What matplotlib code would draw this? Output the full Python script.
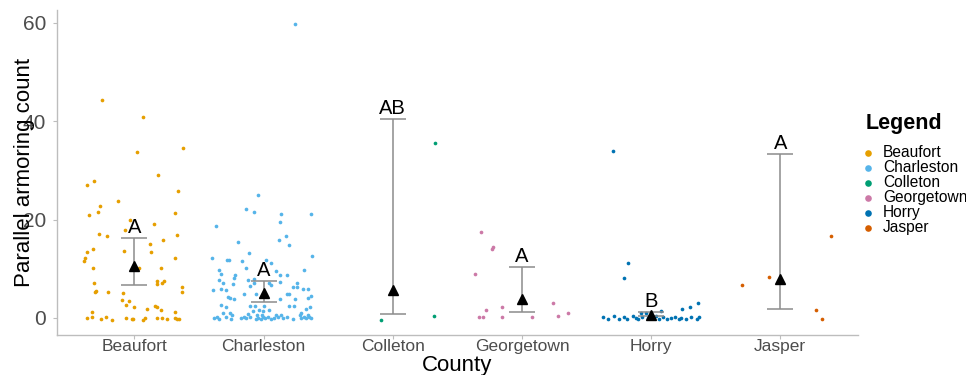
import matplotlib
matplotlib.use("Agg")
import matplotlib.pyplot as plt
import numpy as np

plt.rcParams['font.family'] = ['Liberation Sans', 'DejaVu Sans']

# Counties and colours (Okabe-Ito)
counties = ['Beaufort', 'Charleston', 'Colleton', 'Georgetown', 'Horry', 'Jasper']
colors = ['#E69F00', '#56B4E9', '#009E73', '#CC79A7', '#0072B2', '#D55E00']

# Jittered observations: horizontal jitter (category units) and count
beaufort_jit = [-0.255, 0.064, 0.378, 0.023, 0.18, -0.365, -0.311, 0.334, -0.129, -0.269,
                -0.285, -0.350, 0.314, 0.152, -0.077, -0.033, -0.275, -0.213, 0.329, 0.219,
                0.121, 0.126, -0.319, -0.368, -0.383, -0.391, -0.082, 0.311, -0.325, 0.036,
                0.206, -0.311, 0.177, 0.177, 0.213, 0.229, -0.303, -0.296, -0.206, -0.087,
                0.368, 0.370, -0.098, -0.044, -0.062, 0.0, 0.162, 0.172, 0.093, 0.206,
                0.311, -0.327, -0.368, -0.332, -0.257, -0.221, -0.177, -0.067, -0.023, -0.013,
                0.064, 0.085, 0.172, 0.216, 0.252, 0.311, 0.332, 0.345]
beaufort_val = [44.4, 40.9, 34.6, 33.7, 29.0, 27.0, 27.9, 25.9, 23.7, 22.7,
                21.5, 20.9, 21.4, 19.2, 17.8, 19.9, 17.1, 16.7, 16.9, 15.8,
                15.0, 13.5, 14.0, 13.5, 12.1, 11.6, 13.7, 12.1, 10.1, 10.1,
                10.1, 7.0, 7.6, 6.8, 7.2, 7.6, 5.2, 5.4, 5.2, 5.0,
                6.2, 5.2, 3.7, 3.5, 2.6, 2.2, 2.4, 2.2, 1.8, 1.6,
                1.3, 1.3, -0.07, 0.14, -0.27, 0.14, -0.34, 0.07, -0.27, -0.14,
                -0.4, 0.07, 0.0, 0.07, -0.14, 0.0, -0.2, -0.14]

charleston_jit = [0.239, -0.044, -0.134, -0.075, 0.131, 0.363, 0.129, -0.370, 0.170, 0.116,
                  -0.195, 0.195, -0.111, 0.373, -0.399, -0.283, -0.267, -0.167, 0.015, 0.054,
                  -0.139, 0.095, 0.309, -0.345, -0.334, 0.123, 0.180, -0.224, -0.231, -0.347,
                  -0.314, -0.118, -0.075, -0.075, -0.103, 0.041, 0.057, 0.126, 0.260, 0.224,
                  0.260, 0.306, 0.345, -0.239, -0.396, -0.329, -0.293, -0.154, -0.062, 0.180,
                  0.195, 0.368, -0.278, -0.257, -0.226, 0.123, 0.244, 0.342, -0.329, -0.288,
                  -0.103, -0.064, 0.005, 0.195, 0.236, 0.324, 0.360, -0.082, -0.039, -0.005,
                  0.041, -0.314, -0.257, -0.247, 0.290, -0.121,
                  -0.381, -0.365, -0.345, -0.288, -0.249, -0.177, -0.154, -0.134, -0.108, -0.062,
                  -0.041, -0.023, -0.005, 0.013, 0.033, 0.054, 0.077, 0.113, 0.149, 0.180,
                  0.226, 0.291, 0.309, 0.329, 0.350, 0.368,
                  -0.051, -0.015, 0.093, 0.131, 0.278, 0.342]
charleston_val = [59.8, 25.0, 22.2, 21.5, 21.1, 21.1, 19.5, 18.6, 16.6, 15.8,
                  15.4, 14.8, 13.2, 12.5, 12.2, 11.7, 11.8, 11.6, 11.7, 11.1,
                  10.2, 9.6, 9.7, 9.7, 9.0, 8.7, 8.8, 8.7, 8.1, 7.7,
                  7.0, 7.8, 7.9, 7.0, 6.4, 7.1, 6.6, 7.4, 7.0, 6.3,
                  6.3, 5.8, 5.8, 6.8, 5.7, 5.9, 5.7, 4.8, 4.9, 4.8,
                  4.9, 4.5, 4.2, 4.0, 3.8, 3.9, 3.9, 4.0, 2.7, 2.2,
                  2.5, 2.5, 2.5, 2.5, 2.5, 1.8, 2.3, 1.4, 1.6, 1.5,
                  1.6, 1.1, 1.0, 0.5, 1.0, 0.7,
                  -0.1, 0.2, -0.2, 0.1, -0.3, 0.0, 0.2, -0.1, 0.1, -0.2,
                  0.0, -0.3, 0.1, -0.1, 0.2, -0.2, 0.0, 0.1, -0.1, 0.2,
                  -0.2, 0.0, 0.1, -0.1, 0.2, 0.0,
                  0.5, 0.5, 0.5, 0.5, 0.5, 0.5]

colleton_jit = [0.327, 0.319, -0.090]
colleton_val = [35.6, 0.3, -0.5]

georgetown_jit = [-0.316, -0.234, -0.228, -0.363, -0.154, -0.275, 0.242, -0.329, -0.298, -0.154,
                  0.077, 0.275, 0.355]
georgetown_val = [17.5, 14.0, 14.4, 8.9, 2.2, 1.6, 3.0, 0.2, 0.1, 0.2,
                  0.2, 0.3, 0.9]

horry_jit = [-0.293, -0.177, -0.208, 0.365, 0.301, 0.237, 0.080, -0.080, -0.041,
             -0.376, -0.337, -0.291, -0.247, -0.208, -0.188, -0.144, -0.118, -0.100, -0.067,
             -0.028, 0.036, 0.062, 0.095, 0.126, 0.152, 0.185, 0.216, 0.229, 0.267,
             0.306, 0.357, 0.370]
horry_val = [33.9, 11.2, 8.1, 3.0, 2.3, 1.8, 1.5, 0.95, 0.95,
             0.2, -0.2, 0.3, -0.3, 0.1, -0.2, 0.3, 0.0, -0.3, 0.2,
             -0.1, 0.3, -0.2, 0.1, -0.3, -0.1, 0.2, -0.2, 0.0, -0.3,
             0.1, -0.2, 0.2]

jasper_jit = [0.391, -0.087, -0.296, 0.275, 0.319]
jasper_val = [16.7, 8.3, 6.7, 1.7, -0.3]

jitters = [beaufort_jit, charleston_jit, colleton_jit, georgetown_jit, horry_jit, jasper_jit]
values = [beaufort_val, charleston_val, colleton_val, georgetown_val, horry_val, jasper_val]

# Model means with confidence limits and compact letter display
means = [10.6, 5.1, 5.7, 3.9, 0.6, 7.9]
lower = [6.7, 3.3, 0.7, 1.3, 0.4, 1.8]
upper = [16.3, 7.5, 40.4, 10.4, 1.2, 33.3]
letters = ['A', 'A', 'AB', 'A', 'B', 'A']

fig = plt.figure(figsize=(9.66, 3.75), dpi=100)
ax = fig.add_axes([0.059, 0.107, 0.829, 0.866])

pos = np.arange(1, len(counties) + 1)

for i in range(len(counties)):
    ax.scatter(pos[i] + np.array(jitters[i]), values[i], s=7, color=colors[i],
               linewidths=0, label=counties[i], zorder=2)

means = np.array(means)
yerr = [means - np.array(lower), np.array(upper) - means]
ax.errorbar(pos, means, yerr=yerr, fmt='none', ecolor='#8c8c8c', elinewidth=1.1,
            capsize=9.4, capthick=1.1, zorder=3)
ax.plot(pos, means, linestyle='none', marker='^', color='black', markersize=6.5, zorder=4)

for i in range(len(counties)):
    ax.text(pos[i], upper[i] + 1.0, letters[i], ha='center', va='baseline',
            fontsize=14.5, color='black', zorder=5)

ax.set_xlim(0.4, 6.6)
ax.set_ylim(-3.45, 62.6)
ax.set_xticks(pos)
ax.set_xticklabels(counties)
ax.set_yticks([0, 20, 40, 60])

for side in ['top', 'right']:
    ax.spines[side].set_visible(False)
for side in ['left', 'bottom']:
    ax.spines[side].set_color('#bdbdbd')
    ax.spines[side].set_linewidth(1.0)

ax.tick_params(axis='both', colors='#bdbdbd', labelcolor='#4d4d4d',
               length=3, width=0.8)
ax.tick_params(axis='x', pad=0, labelsize=12.5)
ax.tick_params(axis='y', pad=5, labelsize=15)

ax.set_xlabel('County', fontsize=16, color='black')
ax.set_ylabel('Parallel armoring count', fontsize=16, color='black')
ax.xaxis.set_label_coords(0.5, -0.063)
ax.yaxis.set_label_coords(-0.027, 0.5)

# legend: title drawn separately so the gap above the keys matches
fig.text(866 / 966, 1 - 123 / 375, 'Legend', fontsize=15.5, fontweight='bold',
         ha='left', va='center')
leg = ax.legend(loc='upper left', bbox_to_anchor=(0.8937, 0.614),
                bbox_transform=fig.transFigure, frameon=False, fontsize=11.2,
                labelspacing=0.0, handlelength=0.6, handletextpad=0.66,
                borderpad=0, borderaxespad=0, markerscale=1.8)

fig.savefig('out.png', dpi=100)
